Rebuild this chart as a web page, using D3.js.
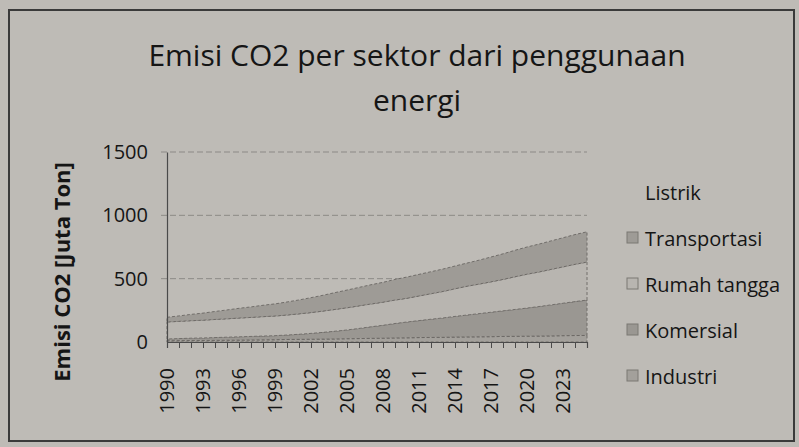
<!DOCTYPE html>
<html>
<head>
<meta charset="utf-8">
<script src="https://cdn.jsdelivr.net/npm/d3@7"></script>
<style>
  body { margin: 0; background: #b9b6b1; }
  svg text { font-family: 'Open Sans', 'Noto Sans', sans-serif; fill: #151515; }
</style>
</head>
<body>
<div id="chart"></div>
<script>
/* years on the category axis */
const years = d3.range(1990, 2026)
const yearLabels = years.filter((y) => (y - 1990) % 3 === 0)

/* series values (juta ton) */
const industri = [10, 11, 12, 12, 13, 14, 15, 16, 17, 18, 20, 21, 22, 23, 24, 26, 27, 29, 30, 32,
  33, 35, 36, 37, 39, 40, 41, 42, 44, 45, 46, 47, 48, 50, 51, 52]
const komersial = [14, 16, 18, 20, 22, 24, 26, 28, 30, 32, 35, 40, 46, 53, 61, 69, 80, 91, 102, 114,
  125, 134, 144, 153, 163, 173, 183, 193, 202, 212, 222, 233, 245, 256, 268, 279]
const rumahTangga = [134, 136, 138, 140, 143, 145, 148, 150, 153, 155, 158, 161, 164, 168, 172, 175, 178, 180, 182, 185,
  187, 194, 201, 209, 218, 227, 233, 240, 248, 258, 267, 273, 280, 287, 294, 300]
const transportasi = [37, 43, 50, 56, 63, 70, 77, 83, 90, 96, 103, 110, 118, 125, 133, 140, 146, 152, 157, 163,
  168, 171, 174, 177, 180, 183, 189, 196, 202, 209, 215, 220, 225, 230, 235, 239]
const listrik = years.map(() => 0)

/* stacking order bottom -> top */
const seriesNames = ['Industri', 'Komersial', 'Rumah tangga', 'Transportasi', 'Listrik']
const seriesValues = [industri, komersial, rumahTangga, transportasi, listrik]
const yTicks = [0, 500, 1000, 1500]

/* greys of the printed chart */
const fillPal = d3.scaleOrdinal()
  .domain(seriesNames)
  .range(['#a3a09b', '#9a9792', '#b8b5b0', '#9e9b96', 'none'])

const W = 799
const H = 447
const margin = { top: 152, left: 167, right: 212, bottom: 105 }

const svg = d3.select('#chart').append('svg').attr('width', W).attr('height', H)

/* background and photo frame */
svg.append('rect').attr('width', W).attr('height', H).attr('fill', '#bebbb6')
svg.append('rect').attr('x', 9).attr('y', 10).attr('width', W - 14).attr('height', H - 16)
  .attr('fill', 'none').attr('stroke', '#3a3a3a').attr('stroke-width', 2)

const xScale = d3.scaleLinear().domain([1990, 2025]).range([margin.left, W - margin.right])
const yScale = d3.scaleLinear().domain([0, 1500]).range([H - margin.bottom, margin.top])

/* table for d3.stack */
const table = years.map((yr, i) => {
  const row = { year: yr }
  seriesNames.forEach((n, k) => { row[n] = seriesValues[k][i] })
  return row
})
const stacked = d3.stack().keys(seriesNames)(table)

/* gridlines */
svg.append('g')
  .selectAll('line')
  .data(yTicks.slice(1))
  .join('line')
  .attr('x1', margin.left - 6)
  .attr('x2', W - margin.right)
  .attr('y1', (d) => yScale(d))
  .attr('y2', (d) => yScale(d))
  .attr('stroke', '#6d6b68')
  .attr('stroke-width', 1)
  .attr('stroke-dasharray', '6,3')
  .attr('opacity', 0.6)

/* areas */
const area = d3.area()
  .x((d) => xScale(d.data.year))
  .y0((d) => yScale(d[0]))
  .y1((d) => yScale(d[1]))

svg.append('g')
  .selectAll('path')
  .data(stacked)
  .join('path')
  .attr('d', area)
  .attr('fill', (d) => fillPal(d.key))
  .attr('stroke', (d) => (d.key === 'Listrik' ? 'none' : '#6a6763'))
  .attr('stroke-width', 0.9)
  .attr('stroke-dasharray', '3,2')

/* y axis */
const yAxis = d3.axisLeft(yScale).tickValues(yTicks).tickSize(0).tickPadding(19).tickFormat(d3.format('d'))
svg.append('g')
  .attr('transform', `translate(${margin.left}, 0)`)
  .call(yAxis)
  .call((g) => g.select('.domain').attr('stroke', '#4a4a4a').attr('stroke-width', 1.2))
  .call((g) => g.selectAll('.tick text').style('font-size', '20px'))

/* x axis with ticks each year */
const xAxis = d3.axisBottom(xScale).tickValues(years).tickSize(6).tickFormat('')
svg.append('g')
  .attr('transform', `translate(0, ${yScale(0)})`)
  .call(xAxis)
  .call((g) => g.select('.domain').attr('stroke', '#4a4a4a').attr('stroke-width', 1.2))
  .call((g) => g.selectAll('.tick line').attr('stroke', '#4a4a4a'))

svg.append('g')
  .selectAll('text')
  .data(yearLabels)
  .join('text')
  .attr('transform', (d) => `translate(${xScale(d) + 7}, ${yScale(0) + 26}) rotate(-90)`)
  .attr('text-anchor', 'end')
  .style('font-size', '20px')
  .text((d) => d)

/* y axis label */
svg.append('text')
  .attr('transform', `translate(70, 272) rotate(-90)`)
  .attr('text-anchor', 'middle')
  .style('font-size', '22px')
  .style('font-weight', 'bold')
  .text('Emisi CO2 [Juta Ton]')

/* title */
const title = svg.append('text')
  .attr('text-anchor', 'middle')
  .style('font-size', '30px')
title.append('tspan').attr('x', 417).attr('y', 66).text('Emisi CO2 per sektor dari penggunaan')
title.append('tspan').attr('x', 417).attr('y', 111).text('energi')

/* legend, top series first */
const legend = svg.append('g')
  .selectAll('g')
  .data(seriesNames.slice().reverse())
  .join('g')
  .attr('transform', (d, i) => `translate(627, ${193 + i * 46})`)

legend.append('rect')
  .attr('x', 0).attr('y', -7).attr('width', 11).attr('height', 11)
  .attr('fill', (d) => fillPal(d))
  .attr('stroke', (d) => (d === 'Listrik' ? 'none' : '#7a7873'))

legend.append('text')
  .attr('x', 18).attr('y', 7)
  .style('font-size', '20px')
  .text((d) => d)
</script>
</body>
</html>
